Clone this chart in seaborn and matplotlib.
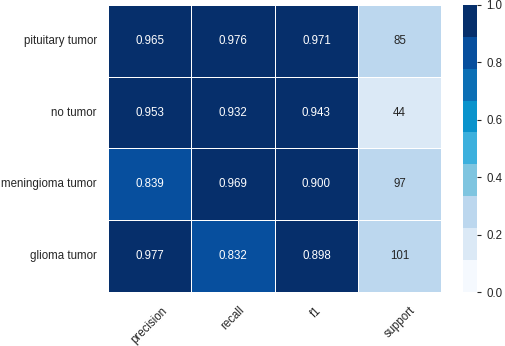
import numpy as np
import pandas as pd
import matplotlib
matplotlib.use("Agg")
import matplotlib.pyplot as plt
from matplotlib.colors import ListedColormap
import seaborn as sns

classes = ["pituitary tumor", "no tumor", "meningioma tumor", "glioma tumor"]
metrics = ["precision", "recall", "f1", "support"]
precision = [0.965, 0.953, 0.839, 0.977]
recall = [0.976, 0.932, 0.969, 0.832]
f1 = [0.971, 0.943, 0.900, 0.898]
support = [85, 44, 97, 101]

sns.set_style("white")
plt.rcParams["font.family"] = ["Liberation Sans", "DejaVu Sans"]

# 9-step blues, light to dark
blues9 = ListedColormap(["#f5f9fe", "#dbe9f6", "#bcd7ee", "#7fc5e0", "#3cb0dd",
                         "#0a93cc", "#0b6fb5", "#074f9e", "#062f6b"])

# support is shown as counts but coloured by its share of all samples
support_share = np.array(support) / np.sum(support)
colour_vals = pd.DataFrame(
    np.column_stack([precision, recall, f1, support_share]),
    index=classes, columns=metrics)
annot = np.column_stack([
    [f"{v:.3f}" for v in precision],
    [f"{v:.3f}" for v in recall],
    [f"{v:.3f}" for v in f1],
    [str(v) for v in support],
])

fig = plt.figure(figsize=(5.05, 3.46), dpi=100)
ax = fig.add_axes([0.214, 0.156, 0.66, 0.83])
cax = fig.add_axes([0.917, 0.156, 0.028, 0.83])
sns.heatmap(colour_vals, ax=ax, cbar_ax=cax, cmap=blues9,
            vmin=0, vmax=1, annot=annot, fmt="", linewidths=0.6,
            linecolor="white", annot_kws={"fontsize": 8.3})
ax.tick_params(axis="x", length=0, labelsize=8.3, pad=9)
ax.tick_params(axis="y", length=0, labelsize=8.3, pad=8)
ax.set_xticklabels(metrics, rotation=45)
ax.set_yticklabels(classes, rotation=0)
cax.tick_params(axis="y", right=True, length=3, width=0.8, labelsize=8.3)
cax.set_yticks([0.0, 0.2, 0.4, 0.6, 0.8, 1.0])
fig.savefig("out.png", dpi=100)
